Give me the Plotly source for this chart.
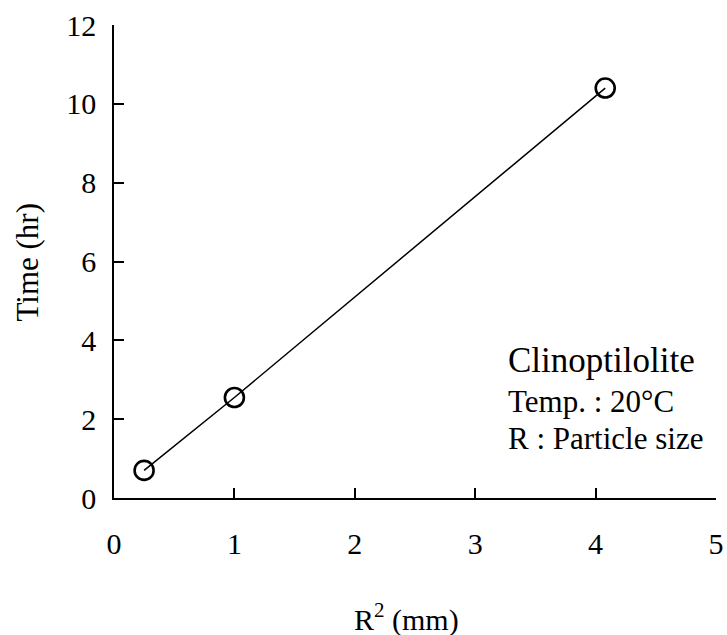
import plotly.graph_objects as go

# Data
r_squared = [0.25, 1.0, 4.08]        # R^2 (mm)
time_hr = [0.7, 2.55, 10.4]          # Time (hr)

x_ticks = [0, 1, 2, 3, 4, 5]
y_ticks = [0, 2, 4, 6, 8, 10, 12]

W, H = 727, 635
L, R, T, B = 113.5, 11, 25, 137
FONT = "Liberation Serif, Times New Roman, serif"

fig = go.Figure()
fig.add_trace(go.Scatter(
    x=r_squared, y=time_hr, mode="lines+markers",
    line=dict(color="black", width=1.5),
    marker=dict(symbol="circle-open", size=19, color="black", line=dict(width=2.6, color="black")),
    showlegend=False,
))

axis_common = dict(
    showline=True, linecolor="black", linewidth=1.5,
    ticks="inside", ticklen=10, tickwidth=1.5, tickcolor="black",
    showgrid=False, zeroline=False, mirror=False,
    tickfont=dict(family=FONT, size=30, color="black"),
    automargin=False,
)

fig.update_xaxes(range=[0, 5], tickvals=x_ticks, ticklabelstandoff=18, **axis_common)
fig.update_yaxes(range=[0, 12], tickvals=y_ticks, ticklabelstandoff=10, **axis_common)

# (text, x_px, y_px, size, xanchor, angle)
notes = [
    ("R<sup>2</sup> (mm)", 406, 617, 30, "center", 0),
    ("Time (hr)", 26, 262, 31, "center", -90),
    ("Clinoptilolite", 506, 360, 35, "left", 0),
    ("Temp. : 20°C", 506, 401, 31, "left", 0),
    ("R : Particle size", 506, 438, 31, "left", 0),
]
pw, ph = W - L - R, H - T - B
annotations = []
for text, xp, yp, size, xa, ang in notes:
    annotations.append(dict(
        text=text, x=(xp - L) / pw, y=(H - yp - B) / ph,
        xref="paper", yref="paper", xanchor=xa, yanchor="middle",
        textangle=ang, showarrow=False,
        font=dict(family=FONT, size=size, color="black"),
    ))

fig.update_layout(
    width=W, height=H,
    margin=dict(l=L, r=R, t=T, b=B, pad=0),
    paper_bgcolor="white", plot_bgcolor="white",
    annotations=annotations,
)

fig.write_html(
    "out.html",
    config={"displayModeBar": False},
    post_script="document.body.style.margin='0';document.body.style.overflow='hidden';",
)
